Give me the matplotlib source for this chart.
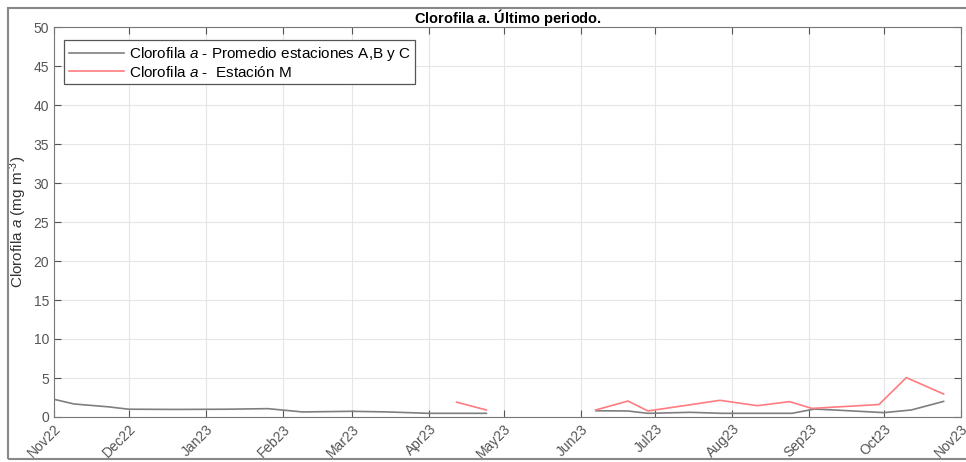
import matplotlib
matplotlib.use("Agg")
import matplotlib.pyplot as plt
import matplotlib.dates as mdates
import numpy as np
import pandas as pd
from matplotlib.patches import Rectangle

plt.rcParams["font.family"] = ["Liberation Sans", "DejaVu Sans"]
plt.rcParams["mathtext.fontset"] = "custom"
plt.rcParams["mathtext.rm"] = "Liberation Sans"
plt.rcParams["mathtext.it"] = "Liberation Sans:italic"
plt.rcParams["mathtext.bf"] = "Liberation Sans:bold"
plt.rcParams["mathtext.bfit"] = "Liberation Sans:bold:italic"

# Promedio estaciones A, B y C (NaN = hueco sin datos)
abc_dates = pd.to_datetime([
    "2022-11-01", "2022-11-09", "2022-11-23", "2022-12-01", "2022-12-20",
    "2023-01-10", "2023-01-26", "2023-02-09", "2023-03-01", "2023-03-15",
    "2023-04-01", "2023-04-24", "2023-05-15",
    "2023-06-07", "2023-06-20", "2023-06-28", "2023-07-15", "2023-07-28",
    "2023-08-25", "2023-09-03", "2023-09-11", "2023-10-01", "2023-10-12",
    "2023-10-25",
])
abc_vals = [
    2.27, 1.67, 1.30, 1.00, 0.97,
    1.00, 1.07, 0.65, 0.73, 0.65,
    0.47, 0.47, np.nan,
    0.80, 0.77, 0.47, 0.60, 0.47,
    0.47, 1.02, 0.90, 0.56, 0.90,
    2.00,
]

# Estación M
m_dates = pd.to_datetime([
    "2023-04-12", "2023-04-24", "2023-05-15",
    "2023-06-07", "2023-06-20", "2023-06-28", "2023-07-27", "2023-08-11",
    "2023-08-24", "2023-09-02", "2023-09-29", "2023-10-10", "2023-10-25",
])
m_vals = [
    1.90, 0.90, np.nan,
    0.90, 2.05, 0.77, 2.14, 1.45,
    1.97, 1.10, 1.60, 5.05, 2.95,
]

fig = plt.figure(figsize=(9.66, 4.62), dpi=100)
ax = fig.add_axes([54 / 966, 1 - 417 / 462, (961 - 54) / 966, (417 - 27) / 462])

ax.plot(abc_dates, abc_vals, color="#7f7f7f", lw=1.2,
        label="Clorofila $\\mathit{a}$ - Promedio estaciones A,B y C")
ax.plot(m_dates, m_vals, color="#ff7c80", lw=1.2,
        label="Clorofila $\\mathit{a}$ -  Estación M")

ax.set_xlim(pd.Timestamp("2022-11-01"), pd.Timestamp("2023-11-01"))
ax.set_ylim(0, 50)
ax.set_yticks(np.arange(0, 51, 5))
ax.xaxis.set_major_locator(mdates.MonthLocator())
ax.xaxis.set_major_formatter(mdates.DateFormatter("%b%y"))
ax.tick_params(axis="x", rotation=45, labelsize=10, colors="#555555")
ax.tick_params(axis="y", labelsize=10, colors="#555555")
ax.tick_params(direction="in", top=True, right=True, length=5)
for lab in ax.get_xticklabels():
    lab.set_ha("right")
    lab.set_rotation_mode("anchor")
for s in ax.spines.values():
    s.set_color("#777777")
ax.grid(True, color="#e6e6e6", lw=0.8)
ax.set_axisbelow(True)

ax.set_ylabel("Clorofila $\\mathit{a}$ (mg m$^{\\text{-}3}$)", fontsize=11,
              color="#333333", labelpad=3)
ax.set_title("Clorofila $\\mathbfit{a}$. Último periodo.", fontsize=10.5,
             fontweight="bold", pad=3)

leg = ax.legend(loc="upper left", fontsize=11, handlelength=3.6,
                fancybox=False, framealpha=1, borderpad=0.3,
                labelspacing=0.1, handletextpad=0.3,
                bbox_to_anchor=(0.003, 0.985))
leg.get_frame().set_edgecolor("#555555")
leg.get_frame().set_linewidth(0.9)

# marco exterior de la captura
fig.add_artist(Rectangle((8 / 966, 3 / 462), 1.0, 1 - 11 / 462,
                         transform=fig.transFigure, fill=False,
                         edgecolor="#888888", lw=1.5, clip_on=False))

fig.savefig("out.png", dpi=100)
